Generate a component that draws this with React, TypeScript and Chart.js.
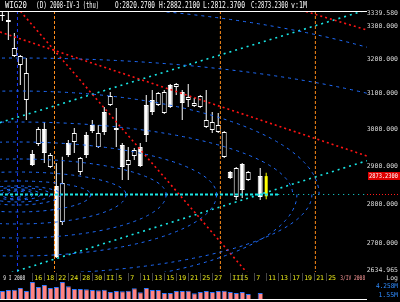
import { useEffect, useRef } from 'react';
import { Chart, registerables } from 'chart.js';

Chart.register(...registerables);

// WIG20 daily sessions, numbered from 9 I 2008 (session 0).
const sessions = [
  0, 1, 2, 3, 4, 5, 6, 7, 8, 9, 10, 11, 12, 13, 14, 15, 16, 17, 18, 19, 20, 21,
  22, 23, 24, 25, 26, 27, 28, 29, 30, 31, 32, 33, 34, 35, 36, 37, 38, 39, 40,
  41, 42, 43, 44,
];
const opens = [
  3330.1, 3312.0, 3209.7, 3183.2, 3082.1, 2932.4, 2959.6, 3000.9, 2897.5, 2847.2,
  2754.2, 2962.3, 2965.1, 2884.2, 2984.3, 3011.9, 2951.4, 3048.2, 3067.9, 2998.1,
  2956.9, 2902.8, 2927.0, 2951.4, 3067.9, 3082.1, 3067.9, 3045.4, 3125.0, 3119.2,
  3105.0, 3082.1, 3065.1, 3062.3, 3006.4, 2998.1, 2992.6, 2924.3, 2884.2, 2818.4,
  2905.5, 2863.0, null, 2873.6, 2820.27,
];
const highs = [
  3351.9, 3345.7, 3278.5, 3212.7, 3203.8, 2943.3, 3006.4, 3020.2, 2935.2, 2908.2,
  2925.0, 2970.5, 3003.6, 2924.3, 2992.6, 3025.8, 3011.9, 3062.3, 3105.0, 3059.5,
  2962.3, 2951.4, 2948.7, 2962.3, 3096.4, 3110.7, 3105.0, 3110.7, 3127.9, 3130.8,
  3110.7, 3127.9, 3087.8, 3096.4, 3110.7, 3048.2, 3045.4, 2995.3, 2886.8, 2897.5,
  2908.2, 2886.8, null, 2894.8, 2882.21,
];
const lows = [
  3315.0, 3257.4, 3206.8, 3125.0, 3025.8, 2900.2, 2954.1, 2908.2, 2894.8, 2664.3,
  2746.6, 2924.3, 2935.2, 2876.2, 2921.7, 2989.8, 2948.7, 2984.3, 3065.1, 2951.4,
  2863.0, 2863.0, 2916.3, 2897.5, 2965.1, 3039.8, 3065.1, 3042.6, 3059.5, 3096.4,
  3025.8, 3062.3, 3062.3, 3059.5, 3003.6, 2989.8, 2989.8, 2921.7, 2865.6, 2810.7,
  2815.8, 2860.4, null, 2810.7, 2812.37,
];
const closes = [
  3333.4, 3318.1, 3233.5, 3209.7, 3159.8, 2902.8, 3000.9, 2935.2, 2929.7, 2666.8,
  2855.1, 2929.7, 2989.8, 2921.7, 2929.7, 2995.3, 2989.8, 2992.6, 3093.5, 3003.6,
  2897.5, 2916.3, 2943.3, 2900.2, 2984.3, 3048.2, 3102.1, 3105.0, 3062.3, 3127.9,
  3073.6, 3090.7, 3073.6, 3093.5, 3025.8, 3020.2, 3011.9, 2992.6, 2868.3, 2894.8,
  2836.7, 2884.2, null, 2818.4, 2873.23,
];
// turnover, millions
const volumes = [
  2.71, 3.02, 3.08, 3.62, 2.77, 5.51, 3.93, 4.58, 3.66, 3.97, 5.44, 4.21, 3.31,
  3.37, 3.29, 3.06, 2.98, 3.09, 2.46, 2.72, 2.69, 2.81, 3.61, 2.39, 3.68, 3.01,
  3.07, 2.16, 2.11, 2.77, 2.7, 2.79, 2.09, 2.47, 2.76, 2.41, 2.72, 2.78, 2.45,
  2.1, 2.4, 1.85, null, 2.15, null,
];

const symbolName = 'WIG20';
const intervalName = '(D)';
const sessionDate = '2008-IV-3 (thu)';
const sessionVolume = 'v:1M';

const priceTicks = [2634.965, 2700, 2800, 2900, 3000, 3100, 3200, 3300, 3339.58];
const priceTickLabels = [
  '2634.965', '2700.000', '2800.000', '2900.000', '3000.000', '3100.000',
  '3200.000', '3300.000', '3339.580',
];
const volumeTicks = [1.55, 4.258];
const volumeTickLabels = ['1.55M', '4.258M'];

const dateSessions = [0, 5, 7, 9, 11, 13, 15, 17, 19, 21, 23, 25, 27, 29, 31, 33, 35, 38, 40, 42, 44, 46, 48, 50, 52, 54];
const dateTexts = [
  '9 I 2008', '16', '18', '22', '24', '28', '30', 'II', '5', '7', '11', '13', '15',
  '19', '21', '25', '27', 'III', '5', '7', '11', '13', '17', '19', '21', '25',
];
const todayText = '3/IV 2008';
const todaySession = 56;

// horizontal level through the arc centre
const levelPrice = 2825;
// Fibonacci-style arcs anchored at the time marker on the level
const arcCenterSession = 2.52;
const upperArcDays = [92.6, 86.9, 50.3, 45.9, 33.2, 24.8, 18.1, 12.2, 7.2, 5.5, 3.8, 2.6, 1.6];
const upperArcTops = [3364.3, 3203.8, 3107.8, 3020.2, 2965.1, 2919.0, 2884.2, 2860.4, 2847.2, 2843.0, 2839.3, 2836.7, 2834.1];
const lowerArcDays = [49.1, 46.6, 33.2, 24.8, 18.1, 12.2, 7.2, 5.5, 3.8, 2.6, 1.6];
const lowerArcBottoms = [2625.3, 2596.4, 2669.2, 2713.9, 2749.2, 2779.8, 2797.7, 2805.5, 2810.7, 2813.2, 2818.4];

// trend lines as [session, price] anchors
const redTrendA = [[-0.39, 3281.6], [60.81, 2927.0]];
const redTrendB = [[1.38, 3379.8], [44.76, 2563.1]];
const redTrendC = [[44.24, 3379.8], [60.81, 3287.6]];
const cyanTrendA = [[-0.39, 3018.5], [60.81, 3349.3]];
const cyanTrendB = [[-0.39, 2619.7], [60.81, 2914.4]];
const cycleSessions = [8.7, 36.36, 52.2];
const anchorSessions = [2.52];

const sessionMin = -0.39;
const sessionMax = 60.81;
const priceTop = 3345.7;
const priceFloor = 2630.1;
const axisBottom = 2563.1;
const volumeTop = 87.9;

const last = sessions.length - 1;
const valid = sessions.filter((s) => opens[s] != null);
const pts = (pairs: number[][]) => pairs.map(([x, y]) => ({ x, y }));
const priceClip = { left: 0, top: 0, right: 0, bottom: -28 };

const MONO = '"DejaVu Sans Mono", monospace';

function lineSet(data: any[], color: string, width: number, dash: number[]) {
  return {
    type: 'line',
    data,
    borderColor: color,
    borderWidth: width,
    borderDash: dash,
    pointRadius: 0,
    fill: false,
    tension: 0,
    xAxisID: 'x',
    yAxisID: 'y',
    order: 1,
    clip: priceClip,
  };
}

const panelPlugin = {
  id: 'panel',
  beforeDraw(chart: any) {
    const { ctx, width, height } = chart;
    ctx.save();
    ctx.fillStyle = '#000000';
    ctx.fillRect(0, 0, width, height);
    ctx.restore();
  },
  afterDatasetsDraw(chart: any) {
    const { ctx, chartArea: a, scales } = chart;
    const xs = scales.x;
    const ys = scales.y;
    const floorPx = ys.getPixelForValue(priceFloor);
    ctx.save();
    ctx.beginPath();
    ctx.rect(a.left, a.top, a.right - a.left, floorPx - a.top);
    ctx.clip();
    ctx.strokeStyle = '#1f6dff';
    ctx.lineWidth = 1;
    ctx.setLineDash([3, 4]);
    const cx = xs.getPixelForValue(arcCenterSession);
    const cy = ys.getPixelForValue(levelPrice);
    upperArcDays.forEach((d, i) => {
      const rx = xs.getPixelForValue(arcCenterSession + d) - cx;
      const ry = cy - ys.getPixelForValue(upperArcTops[i]);
      ctx.beginPath();
      ctx.ellipse(cx, cy, rx, ry, 0, Math.PI, 2 * Math.PI);
      ctx.stroke();
    });
    lowerArcDays.forEach((d, i) => {
      const rx = xs.getPixelForValue(arcCenterSession + d) - cx;
      const ry = ys.getPixelForValue(lowerArcBottoms[i]) - cy;
      ctx.beginPath();
      ctx.ellipse(cx, cy, rx, ry, 0, 0, Math.PI);
      ctx.stroke();
    });
    ctx.restore();
  },
  afterDraw(chart: any) {
    const { ctx, chartArea: a, scales, width } = chart;
    const xs = scales.x;
    const ys = scales.y;
    const vs = scales.yVol;
    ctx.save();

    // panel frame
    ctx.fillStyle = '#ffffff';
    ctx.fillRect(a.left, a.top, a.right - a.left, 1);
    ctx.fillRect(a.left, a.bottom - 1, a.right - a.left, 1);

    // header line
    ctx.font = `8px ${MONO}`;
    ctx.textBaseline = 'middle';
    ctx.textAlign = 'left';
    const header: [string, number, number][] = [
      [symbolName, 5, 22],
      [intervalName, 36, 11],
      [sessionDate, 50, 49],
      [`O:${opens[last]!.toFixed(4)}`, 115, 40],
      [`H:${highs[last]!.toFixed(4)}`, 159, 41],
      [`L:${lows[last]!.toFixed(4)}`, 203, 42],
      [`C:${closes[last]!.toFixed(4)}`, 251, 37],
      [sessionVolume, 291, 16],
    ];
    header.forEach(([t, x0, w]) => ctx.fillText(t, x0, 6, w));

    // date row
    ctx.font = `6.5px ${MONO}`;
    dateSessions.forEach((s, i) => {
      const px = xs.getPixelForValue(s);
      if (i > 0) {
        ctx.save();
        ctx.strokeStyle = '#8c8c8c';
        ctx.lineWidth = 1;
        ctx.setLineDash([1, 1]);
        ctx.beginPath();
        ctx.moveTo(Math.round(px) + 0.5, 273.5);
        ctx.lineTo(Math.round(px) + 0.5, 281.5);
        ctx.stroke();
        ctx.restore();
      }
      ctx.fillStyle = i === 0 ? '#f0f0f0' : '#ecec1a';
      if (i === 0) ctx.fillText(dateTexts[i], px + 1, 278, 22);
      else ctx.fillText(dateTexts[i], px + 2, 278);
    });
    ctx.fillStyle = '#ff9a9a';
    ctx.fillText(todayText, xs.getPixelForValue(todaySession) + 2, 278, 25);

    // level marker continues into the price scale
    const ly = Math.round(ys.getPixelForValue(levelPrice)) + 0.5;
    ctx.strokeStyle = '#ff1a1a';
    ctx.lineWidth = 1;
    ctx.setLineDash([1, 2]);
    ctx.beginPath();
    ctx.moveTo(a.right, ly);
    ctx.lineTo(width, ly);
    ctx.stroke();
    ctx.setLineDash([]);

    // last close tag
    const yc = ys.getPixelForValue(closes[last]);
    ctx.fillStyle = '#e00000';
    ctx.fillRect(a.right + 1, Math.round(yc) - 4, width - a.right - 1, 8);
    ctx.fillStyle = '#ffffff';
    ctx.textAlign = 'right';
    ctx.fillText(closes[last]!.toFixed(4), width - 2, Math.round(yc), 29);

    ctx.fillStyle = '#d8d8d8';
    ctx.fillText('Log', width - 2, 278);

    // volume scale labels
    ctx.fillStyle = '#2f8cff';
    volumeTicks.forEach((v, i) => {
      ctx.fillText(volumeTickLabels[i], width - 2, Math.min(vs.getPixelForValue(v), a.bottom - 4), 22);
    });
    ctx.restore();
  },
};

export default function App() {
  const ref = useRef<HTMLCanvasElement>(null);

  useEffect(() => {
    document.body.style.margin = '0';
    document.body.style.background = '#000';
    const canvas = ref.current;
    if (!canvas) return;

    const isDown = (s: number) => (closes[s] as number) < (opens[s] as number);
    const body = valid.filter((s) => s !== last).map((s) => ({ x: s, y: [opens[s], closes[s]] }));
    const wick = valid.filter((s) => s !== last).map((s) => ({ x: s, y: [lows[s], highs[s]] }));

    const datasets: any[] = [
      {
        type: 'bar',
        data: sessions.filter((s) => volumes[s] != null).map((s) => ({ x: s, y: volumes[s] })),
        xAxisID: 'x',
        yAxisID: 'yVol',
        backgroundColor: '#ff8585',
        borderColor: '#2a78ff',
        borderWidth: { left: 1, top: 1, right: 0, bottom: 0 },
        borderSkipped: false,
        barThickness: 5,
        grouped: false,
        inflateAmount: 0,
        order: 8,
      },
      {
        type: 'bar',
        data: wick,
        xAxisID: 'x',
        yAxisID: 'y',
        backgroundColor: '#ffffff',
        borderWidth: 0,
        barThickness: 1,
        grouped: false,
        inflateAmount: 0,
        order: 7,
      },
      {
        type: 'bar',
        data: body,
        xAxisID: 'x',
        yAxisID: 'y',
        backgroundColor: (c: any) => (c.raw && isDown(c.raw.x) ? '#ffffff' : '#000000'),
        borderColor: '#ffffff',
        borderWidth: 1,
        borderSkipped: false,
        barThickness: 5,
        grouped: false,
        inflateAmount: 0,
        order: 6,
      },
      {
        type: 'bar',
        data: [{ x: last, y: [lows[last], highs[last]] }],
        xAxisID: 'x',
        yAxisID: 'y',
        backgroundColor: '#ffff00',
        borderWidth: 0,
        barThickness: 1,
        grouped: false,
        inflateAmount: 0,
        order: 5,
      },
      {
        type: 'bar',
        data: [{ x: last, y: [opens[last], closes[last]] }],
        xAxisID: 'x',
        yAxisID: 'y',
        backgroundColor: '#ffff00',
        borderWidth: 0,
        barThickness: 3,
        grouped: false,
        inflateAmount: 0,
        order: 4,
      },
      lineSet(pts(redTrendA), '#ff1414', 1.6, [2, 3]),
      lineSet(pts(redTrendB), '#ff1414', 1.6, [2, 3]),
      lineSet(pts(redTrendC), '#ff1414', 1.6, [2, 3]),
      lineSet(pts(cyanTrendA), '#19e6e6', 1.6, [2, 4]),
      lineSet(pts(cyanTrendB), '#19e6e6', 1.6, [2, 4]),
      lineSet([{ x: sessionMin, y: levelPrice }, { x: 46, y: levelPrice }], '#19e6e6', 2, [3, 2]),
      lineSet([{ x: 46, y: levelPrice }, { x: sessionMax, y: levelPrice }], '#19e6e6', 1, [1, 4]),
      ...cycleSessions.map((s) =>
        lineSet([{ x: s, y: priceTop }, { x: s, y: priceFloor }], '#ff8c1a', 1, [3, 2])),
      ...anchorSessions.map((s) =>
        lineSet([{ x: s, y: priceTop }, { x: s, y: priceFloor }], '#1a3cff', 1, [3, 3])),
    ];

    const chart = new Chart(canvas, {
      type: 'bar',
      data: { datasets },
      options: {
        animation: false,
        responsive: false,
        devicePixelRatio: 1,
        events: [],
        layout: { padding: { left: 0, right: 2, top: 11, bottom: 2 } },
        plugins: { legend: { display: false }, tooltip: { enabled: false }, title: { display: false } },
        scales: {
          x: { type: 'linear', min: sessionMin, max: sessionMax, offset: false, display: false },
          y: {
            type: 'logarithmic',
            position: 'right',
            weight: 0,
            min: axisBottom,
            max: priceTop,
            afterBuildTicks: (axis: any) => {
              axis.ticks = priceTicks.map((value) => ({ value }));
            },
            afterFit: (axis: any) => {
              axis.width = 31;
              axis.paddingTop = 0;
              axis.paddingBottom = 0;
            },
            grid: { display: false, drawTicks: false },
            border: { display: false },
            ticks: {
              autoSkip: false,
              crossAlign: 'far',
              padding: 0,
              color: '#d8d8d8',
              font: { family: MONO, size: 6.5 },
              callback: (_v: any, i: number) => priceTickLabels[i],
            },
          },
          yVol: {
            type: 'linear',
            position: 'right',
            display: false,
            min: 0,
            max: volumeTop,
          },
        },
      } as any,
      plugins: [panelPlugin],
    } as any);

    return () => chart.destroy();
  }, []);

  return (
    <div style={{ width: 400, height: 302, background: '#000' }}>
      <canvas ref={ref} width={400} height={302} style={{ display: 'block', width: 400, height: 302 }} />
    </div>
  );
}
